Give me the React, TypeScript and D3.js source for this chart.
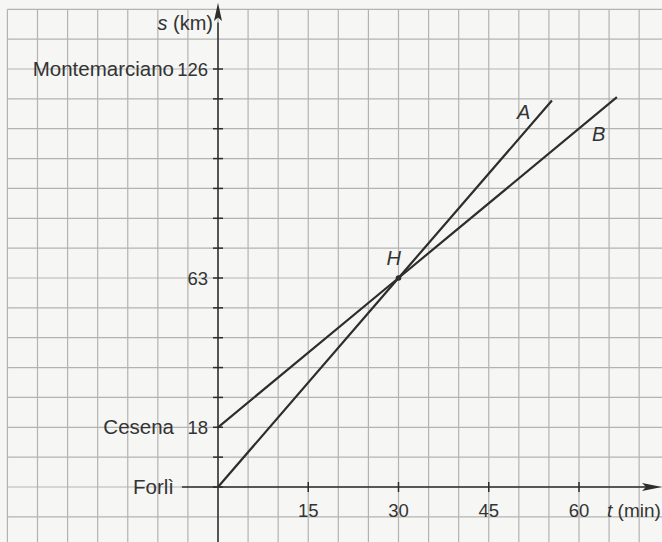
import React from "react";
import * as d3 from "d3";

// Data
const placeNames = ["Forlì", "Cesena", "Montemarciano"];
const placeKm = [0, 18, 126];
const kmLabels = [18, 63, 126];
const timeLabels = [15, 30, 45, 60];
const seriesNames = ["A", "B"];
const tA = [0, 30, 55.5];
const sA = [0, 63, 116.5];
const tB = [0, 30, 66.3];
const sB = [18, 63, 117.5];
const meetT = 30;
const meetS = 63;

const W = 662;
const H = 542;

export default function App() {
  const x = d3.scaleLinear().domain([0, 60]).range([218, 579]);
  const y = d3.scaleLinear().domain([0, 126]).range([487, 69]);

  const gridT = d3.range(-35, 80, 5);
  const gridS = d3.range(-9, 150, 9);
  const tickS = d3.range(0, 127, 9);

  const line = d3
    .line<[number, number]>()
    .x((d) => x(d[0]))
    .y((d) => y(d[1]));

  const dataA: [number, number][] = tA.map((t, i) => [t, sA[i]]);
  const dataB: [number, number][] = tB.map((t, i) => [t, sB[i]]);

  const ink = "#2d2d2d";
  const txt = "#333333";
  const font = "'Liberation Sans', Arial, sans-serif";
  const x0 = x(0);
  const y0 = y(0);

  return (
    <div style={{ position: "absolute", left: 0, top: 0 }}>
      <svg width={W} height={H} style={{ display: "block" }} fontFamily={font}>
        <rect x={0} y={0} width={W} height={H} fill="#f6f6f4" />
        {/* grid */}
        <g stroke="#b3b3b3" strokeWidth={1.2}>
          {gridT.map((t) => (
            <line key={"gt" + t} x1={x(t)} x2={x(t)} y1={y(144)} y2={H} />
          ))}
          {gridS.map((s) => (
            <line key={"gs" + s} x1={x(-35)} x2={W} y1={y(s)} y2={y(s)} />
          ))}
        </g>
        {/* axes */}
        <g stroke={ink} strokeWidth={1.5}>
          <line x1={x0} x2={x0} y1={H} y2={y(140)} />
          <line x1={x(-6)} x2={W - 8} y1={y0} y2={y0} />
          {tickS.map((s) => (
            <line key={"ts" + s} x1={x0 - 5} x2={x0 + 5} y1={y(s)} y2={y(s)} />
          ))}
          {timeLabels.map((t) => (
            <line key={"tt" + t} x1={x(t)} x2={x(t)} y1={y0 - 5} y2={y0 + 5} />
          ))}
        </g>
        <path d={`M${x0},${y(146)} L${x0 + 4},${y(140.5)} L${x0},${y(141.5)} L${x0 - 4},${y(140.5)} Z`} fill={ink} />
        <path d={`M${W},${y0} L${W - 20},${y0 - 4} L${W - 16},${y0} L${W - 20},${y0 + 4} Z`} fill={ink} />
        {/* series */}
        <path d={line(dataA) || ""} fill="none" stroke={ink} strokeWidth={2.2} />
        <path d={line(dataB) || ""} fill="none" stroke={ink} strokeWidth={2.2} />
        <circle cx={x(meetT)} cy={y(meetS)} r={2.8} fill={ink} />
        {/* labels */}
        <g fill={txt}>
          {placeNames.map((n, i) => (
            <text key={n} x={174} y={y(placeKm[i]) + 7} textAnchor="end" fontSize={20.5}>
              {n}
            </text>
          ))}
          {kmLabels.map((k) => (
            <text key={"kl" + k} x={208} y={y(k) + 7} textAnchor="end" fontSize={18.5}>
              {k}
            </text>
          ))}
          {timeLabels.map((t) => (
            <text key={"tl" + t} x={x(t)} y={517} textAnchor="middle" fontSize={18.5}>
              {t}
            </text>
          ))}
          <text x={213} y={30} textAnchor="end" fontSize={20}>
            <tspan fontStyle="italic">s</tspan> (km)
          </text>
          <text x={607} y={517} fontSize={19}>
            <tspan fontStyle="italic">t</tspan> (min)
          </text>
          <text x={x(tA[2]) - 35} y={y(sA[2]) + 18} fontStyle="italic" fontSize={20}>
            {seriesNames[0]}
          </text>
          <text x={x(tB[2]) - 25} y={y(sB[2]) + 44} fontStyle="italic" fontSize={20}>
            {seriesNames[1]}
          </text>
          <text x={x(meetT) - 12} y={y(meetS) - 13} fontStyle="italic" fontSize={20}>
            H
          </text>
        </g>
      </svg>
    </div>
  );
}
